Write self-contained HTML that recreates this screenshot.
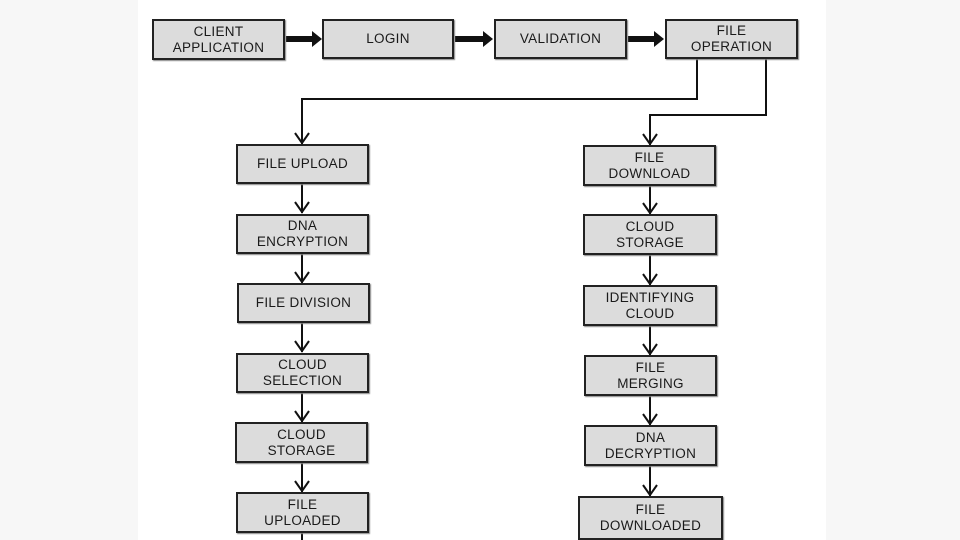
<!DOCTYPE html>
<html><head><style>
body{margin:0;width:960px;height:540px;overflow:hidden;background:#f7f7f7;position:relative;font-family:"Liberation Sans",sans-serif}
.pg{position:absolute;left:138px;top:0;width:688px;height:540px;background:#fff}
.b{position:absolute;box-sizing:border-box;border:2px solid #222;background:#dcdcdc;box-shadow:1px 1px 1px #888;display:flex;align-items:center;justify-content:center;text-align:center;font-size:13.5px;line-height:16px;color:#1a1a1a;letter-spacing:0.3px}
</style></head><body>
<div class="pg"></div>
<svg width="960" height="540" style="position:absolute;left:0;top:0">
<g fill="#111">
<rect x="286" y="36" width="28" height="6"/><polygon points="312,31 322,39 312,47"/>
<rect x="455" y="36" width="30" height="6"/><polygon points="483,31 493,39 483,47"/>
<rect x="628" y="36" width="28" height="6"/><polygon points="654,31 664,39 654,47"/>
</g>
<g stroke="#111" stroke-width="2" fill="none">
<polyline points="697,58 697,99 302,99 302,144"/>
<polyline points="766,58 766,115 650,115 650,145"/>
<polyline points="295,133 302,143 309,133"/>
<polyline points="643,134 650,144 657,134"/>
<line x1="302" y1="183" x2="302" y2="213"/><polyline points="295,202 302,212 309,202"/>
<line x1="302" y1="253" x2="302" y2="283"/><polyline points="295,272 302,282 309,272"/>
<line x1="302" y1="322" x2="302" y2="352"/><polyline points="295,341 302,351 309,341"/>
<line x1="302" y1="392" x2="302" y2="422"/><polyline points="295,411 302,421 309,411"/>
<line x1="302" y1="462" x2="302" y2="492"/><polyline points="295,481 302,491 309,481"/>
<line x1="302" y1="532" x2="302" y2="540"/>
<line x1="650" y1="185" x2="650" y2="214"/><polyline points="643,203 650,213 657,203"/>
<line x1="650" y1="254" x2="650" y2="285"/><polyline points="643,274 650,284 657,274"/>
<line x1="650" y1="325" x2="650" y2="355"/><polyline points="643,344 650,354 657,344"/>
<line x1="650" y1="395" x2="650" y2="425"/><polyline points="643,414 650,424 657,414"/>
<line x1="650" y1="465" x2="650" y2="496"/><polyline points="643,485 650,495 657,485"/>
</g>
</svg>
<div class="b" style="left:152px;top:19px;width:133px;height:41px">CLIENT<br>APPLICATION</div>
<div class="b" style="left:322px;top:19px;width:132px;height:40px">LOGIN</div>
<div class="b" style="left:494px;top:19px;width:133px;height:40px">VALIDATION</div>
<div class="b" style="left:665px;top:19px;width:133px;height:40px">FILE<br>OPERATION</div>
<div class="b" style="left:236px;top:144px;width:133px;height:40px">FILE UPLOAD</div>
<div class="b" style="left:236px;top:214px;width:133px;height:40px">DNA<br>ENCRYPTION</div>
<div class="b" style="left:237px;top:283px;width:133px;height:40px">FILE DIVISION</div>
<div class="b" style="left:236px;top:353px;width:133px;height:40px">CLOUD<br>SELECTION</div>
<div class="b" style="left:235px;top:422px;width:133px;height:41px">CLOUD<br>STORAGE</div>
<div class="b" style="left:236px;top:492px;width:133px;height:41px">FILE<br>UPLOADED</div>
<div class="b" style="left:583px;top:145px;width:133px;height:41px">FILE<br>DOWNLOAD</div>
<div class="b" style="left:583px;top:214px;width:134px;height:41px">CLOUD<br>STORAGE</div>
<div class="b" style="left:583px;top:285px;width:134px;height:41px">IDENTIFYING<br>CLOUD</div>
<div class="b" style="left:584px;top:355px;width:133px;height:41px">FILE<br>MERGING</div>
<div class="b" style="left:584px;top:425px;width:133px;height:41px">DNA<br>DECRYPTION</div>
<div class="b" style="left:578px;top:496px;width:145px;height:44px">FILE<br>DOWNLOADED</div>
</body></html>
